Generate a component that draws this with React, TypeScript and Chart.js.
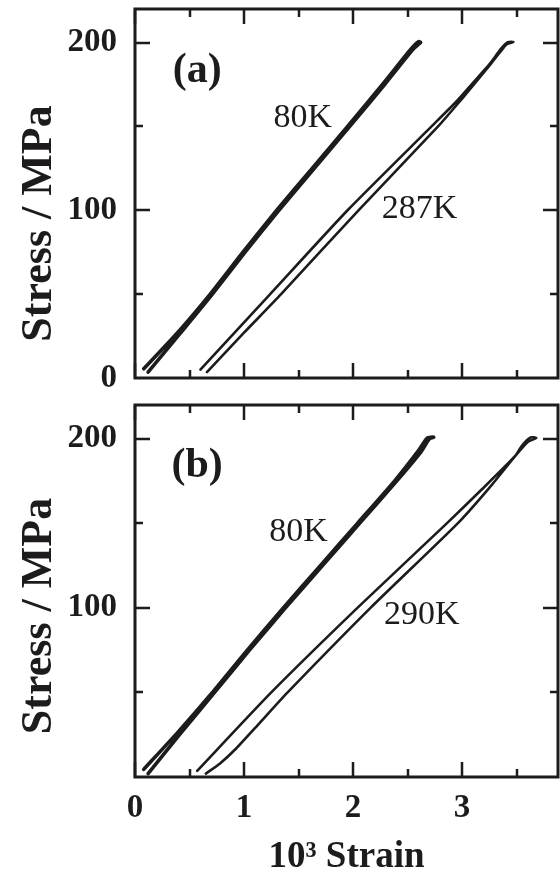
import React, { useEffect, useRef } from 'react';
import { Chart, registerables } from 'chart.js';

Chart.register(...registerables);

const FONT = "'Liberation Serif', 'Times New Roman', Times, serif";
const INK = '#1d1b1c';

// ---------- data: panel (a) ----------
const strainA80 = [0.12, 0.42, 0.71, 1.01, 1.32, 1.645, 1.97, 2.29, 2.55, 2.62, 2.60, 2.53, 2.27, 1.95, 1.625, 1.30, 0.99, 0.69, 0.39, 0.08];
const stressA80 = [3.5, 27, 50, 75, 100, 125, 150, 175, 196, 200, 200.5, 196, 175, 150, 125, 100, 75, 50, 27, 5.5];

const strainA287 = [0.66, 1.00, 1.34, 2.05, 2.78, 2.98, 3.12, 3.26, 3.37, 3.41, 3.47, 3.42, 3.36, 3.25, 3.10, 2.95, 2.72, 1.95, 1.24, 0.60];
const stressA287 = [3.5, 27, 50, 100, 150, 165, 176, 187, 196, 199, 200.3, 200.2, 196.5, 187, 176, 165, 150, 100, 50, 5];

// ---------- data: panel (b) ----------
const strainB80 = [0.12, 0.42, 0.73, 1.05, 1.38, 1.72, 2.06, 2.40, 2.62, 2.70, 2.74, 2.68, 2.60, 2.38, 2.04, 1.70, 1.36, 1.03, 0.71, 0.40, 0.08];
const stressB80 = [2, 26, 50, 75, 100, 125, 150, 175, 192, 200, 201, 200.5, 193, 175, 150, 125, 100, 75, 50, 27, 4.5];

const strainB290 = [0.65, 0.78, 0.93, 1.13, 1.40, 2.16, 2.96, 3.25, 3.49, 3.60, 3.68, 3.63, 3.55, 3.49, 3.18, 2.86, 2.04, 1.25, 0.57];
const stressB290 = [2, 8, 17, 31, 50, 100, 150, 171, 190, 198, 200.5, 200.8, 196, 190, 170, 150, 100, 50, 3.6];

// ---------- axes ----------
const STRAIN_MIN = 0;
const STRAIN_MAX = 3.88;
const STRESS_MIN = 0;
const STRESS_MAX = 220;
const xMajorTicks = [0, 1, 2, 3];
const xMinorTicks = [0.5, 1.5, 2.5, 3.5];
const yMajorTicks = [100, 200];
const yMinorTicks = [50, 150];
const yTickLabelsA = [0, 100, 200];
const yTickLabelsB = [100, 200];
const xTickLabelsB = [0, 1, 2, 3];
const Y_TITLE = 'Stress / MPa';
const X_TITLE = '10³ Strain';

const labelsA = [
  { text: '(a)', x: 0.57, y: 183, bold: true },
  { text: '80K', x: 1.54, y: 155, bold: false },
  { text: '287K', x: 2.61, y: 101, bold: false },
];
const labelsB = [
  { text: '(b)', x: 0.57, y: 184, bold: true },
  { text: '80K', x: 1.50, y: 145, bold: false },
  { text: '290K', x: 2.63, y: 96, bold: false },
];

const toPoints = (xs: number[], ys: number[]) => xs.map((x, i) => ({ x, y: ys[i] }));

const decorPlugin = {
  id: 'panelDecor',
  afterDatasetsDraw(chart: any, _args: any, opts: any) {
    const { ctx, chartArea, scales } = chart;
    const { left, right, top, bottom } = chartArea;
    const x = scales.x;
    const y = scales.y;
    ctx.save();
    ctx.strokeStyle = INK;
    ctx.lineCap = 'butt';
    ctx.lineWidth = 2.5;
    const majLen = 15;
    const minLen = 8;
    ctx.beginPath();
    for (const v of xMajorTicks) {
      const px = Math.round(x.getPixelForValue(v));
      ctx.moveTo(px, bottom); ctx.lineTo(px, bottom - majLen);
      ctx.moveTo(px, top); ctx.lineTo(px, top + majLen);
    }
    for (const v of xMinorTicks) {
      const px = Math.round(x.getPixelForValue(v));
      ctx.moveTo(px, bottom); ctx.lineTo(px, bottom - minLen);
      ctx.moveTo(px, top); ctx.lineTo(px, top + minLen);
    }
    for (const v of yMajorTicks) {
      const py = Math.round(y.getPixelForValue(v));
      ctx.moveTo(left, py); ctx.lineTo(left + majLen, py);
      ctx.moveTo(right, py); ctx.lineTo(right - majLen, py);
    }
    for (const v of yMinorTicks) {
      const py = Math.round(y.getPixelForValue(v));
      ctx.moveTo(left, py); ctx.lineTo(left + minLen, py);
      ctx.moveTo(right, py); ctx.lineTo(right - minLen, py);
    }
    ctx.stroke();
    ctx.lineWidth = 3;
    ctx.strokeRect(left, top, right - left, bottom - top);

    ctx.fillStyle = INK;
    ctx.textAlign = 'center';
    ctx.textBaseline = 'middle';
    for (const l of opts.labels || []) {
      ctx.font = l.bold ? `bold 42px ${FONT}` : `34px ${FONT}`;
      ctx.fillText(l.text, x.getPixelForValue(l.x), y.getPixelForValue(l.y));
    }

    ctx.save();
    ctx.translate(opts.yTitleX, (top + bottom) / 2 + opts.yTitleShift);
    ctx.rotate(-Math.PI / 2);
    ctx.font = `bold 44px ${FONT}`;
    ctx.fillText(Y_TITLE, 0, 0);
    ctx.restore();
    ctx.restore();
  },
};

function buildConfig(panel: 'a' | 'b'): any {
  const isA = panel === 'a';
  const datasets = isA
    ? [
        { data: toPoints(strainA80, stressA80), borderWidth: 3.6 },
        { data: toPoints(strainA287, stressA287), borderWidth: 2.6 },
      ]
    : [
        { data: toPoints(strainB80, stressB80), borderWidth: 3.6 },
        { data: toPoints(strainB290, stressB290), borderWidth: 2.6 },
      ];
  return {
    type: 'scatter',
    data: {
      datasets: datasets.map((d) => ({
        ...d,
        showLine: true,
        borderColor: INK,
        backgroundColor: INK,
        pointRadius: 0,
        tension: 0.2,
        borderJoinStyle: 'round',
        borderCapStyle: 'round',
        fill: false,
      })),
    },
    options: {
      responsive: false,
      animation: false,
      devicePixelRatio: 1,
      layout: { padding: { left: 0, right: 2, top: isA ? 9 : 15, bottom: 0 } },
      plugins: {
        legend: { display: false },
        tooltip: { enabled: false },
        panelDecor: { labels: isA ? labelsA : labelsB, yTitleX: 40, yTitleShift: isA ? 30 : 25 },
      },
      scales: {
        x: {
          type: 'linear',
          min: STRAIN_MIN,
          max: STRAIN_MAX,
          grid: { display: false, drawTicks: false },
          border: { display: false },
          afterBuildTicks: (s: any) => {
            s.ticks = xTickLabelsB.map((v) => ({ value: v }));
          },
          ticks: {
            display: !isA,
            padding: 12,
            color: INK,
            font: { family: FONT, size: 33, weight: 'bold' },
          },
          title: {
            display: !isA,
            text: X_TITLE,
            color: INK,
            font: { family: FONT, size: 37, weight: 'bold', lineHeight: 1 },
            padding: { top: 0, bottom: 1 },
          },
          afterFit: (s: any) => {
            s.height = isA ? 12 : 100;
            s.paddingLeft = 0;
            s.paddingRight = 0;
          },
        },
        y: {
          type: 'linear',
          min: STRESS_MIN,
          max: STRESS_MAX,
          grid: { display: false, drawTicks: false },
          border: { display: false },
          afterBuildTicks: (s: any) => {
            s.ticks = (isA ? yTickLabelsA : yTickLabelsB).map((v) => ({ value: v }));
          },
          ticks: {
            padding: 18,
            color: INK,
            font: { family: FONT, size: 33, weight: 'bold' },
          },
          afterFit: (s: any) => {
            s.width = 135;
            s.paddingTop = 0;
            s.paddingBottom = 0;
          },
        },
      },
    },
    plugins: [decorPlugin],
  };
}

function Panel({ panel, top, height }: { panel: 'a' | 'b'; top: number; height: number }) {
  const ref = useRef<HTMLCanvasElement>(null);
  useEffect(() => {
    if (!ref.current) return;
    const chart = new Chart(ref.current, buildConfig(panel));
    return () => chart.destroy();
  }, [panel]);
  return (
    <canvas
      ref={ref}
      width={560}
      height={height}
      style={{ position: 'absolute', left: 0, top, width: 560, height, display: 'block' }}
    />
  );
}

export default function App() {
  return (
    <div style={{ position: 'fixed', left: 0, top: 0, width: 560, height: 877, background: '#ffffff', overflow: 'hidden' }}>
      <Panel panel="a" top={0} height={390} />
      <Panel panel="b" top={390} height={487} />
    </div>
  );
}
